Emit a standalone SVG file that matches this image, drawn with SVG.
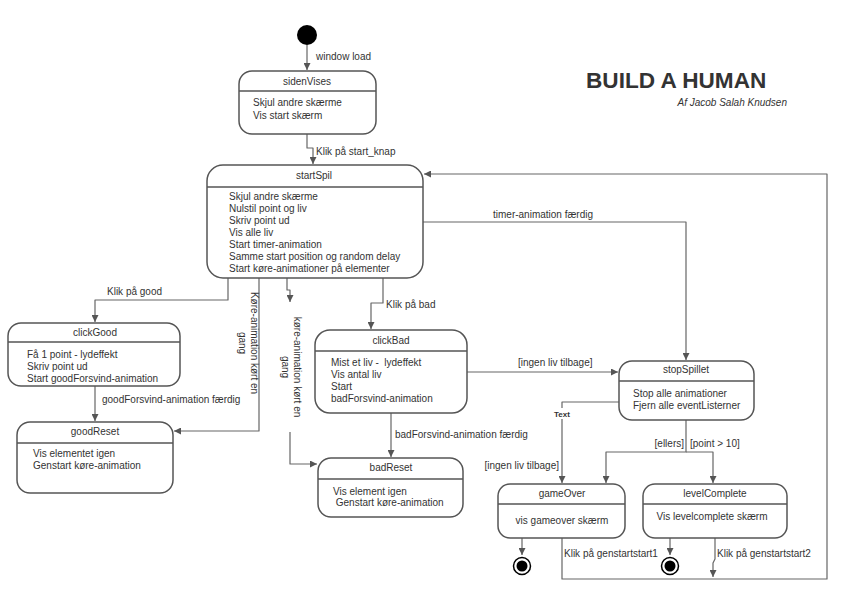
<svg xmlns="http://www.w3.org/2000/svg" width="841" height="594" viewBox="0 0 841 594">
<defs>
<style>
text{font-family:"Liberation Sans",Arial,sans-serif;font-size:10px;fill:#333}
.t{text-anchor:middle}
.box{fill:#fff;stroke:#555;stroke-width:1.5}
.hl{stroke:#555;stroke-width:1.5}
.c{fill:none;stroke:#666;stroke-width:1.2;stroke-linejoin:round}
</style>
<marker id="ah" viewBox="0 0 10 10" refX="10" refY="5" markerWidth="7" markerHeight="7" markerUnits="userSpaceOnUse" orient="auto">
<path d="M0,0 L10,5 L0,10 z" fill="#555"/>
</marker>
</defs>
<rect width="841" height="594" fill="#fff"/>

<g id="title">
<text x="586" y="88" style="font-size:22.6px;font-weight:bold;fill:#333">BUILD A HUMAN</text>
<text x="787" y="106" style="font-style:italic;text-anchor:end">Af Jacob Salah Knudsen</text>
</g>

<g id="connectors">
<path class="c" d="M307,45 V70" marker-end="url(#ah)"/>
<text x="316" y="60">window load</text>
<path class="c" d="M307,134 V148 H313 V164" marker-end="url(#ah)"/>
<text x="316" y="155">Klik på start_knap</text>
<path class="c" d="M228,278 V300 H95 V322" marker-end="url(#ah)"/>
<text x="107" y="295">Klik på good</text>
<path class="c" d="M95,386 V421" marker-end="url(#ah)"/>
<text x="102" y="403">goodForsvind-animation færdig</text>
<path class="c" d="M259,278 V431 H174" marker-end="url(#ah)"/>
<g transform="translate(251,343) rotate(90)"><text class="t" x="0" y="0">Køre-animation kørt en</text><text class="t" x="0" y="12">gang</text></g>
<path class="c" d="M287,278 V290 H290 V302" marker-end="url(#ah)"/>
<g transform="translate(294,367) rotate(90)"><text class="t" x="0" y="0">køre-animation kørt en</text><text class="t" x="0" y="12">gang</text></g>
<path class="c" d="M290,432 V464 H317" marker-end="url(#ah)"/>
<path class="c" d="M383,278 V303 H371 V329" marker-end="url(#ah)"/>
<text x="386" y="308">Klik på bad</text>
<path class="c" d="M391,413 V457" marker-end="url(#ah)"/>
<text x="395" y="438">badForsvind-animation færdig</text>
<path class="c" d="M423,222 H686 V360" marker-end="url(#ah)"/>
<text x="493" y="218">timer-animation færdig</text>
<path class="c" d="M467,372 H618" marker-end="url(#ah)"/>
<text x="518" y="366">[ingen liv tilbage]</text>
<path class="c" d="M619,402 H562 V483" marker-end="url(#ah)"/>
<rect x="552" y="408" width="21" height="11" fill="#fff"/>
<text x="562" y="417" style="font-size:8px;font-weight:bold;text-anchor:middle">Text</text>
<text x="559" y="469" style="text-anchor:end">[ingen liv tilbage]</text>
<path class="c" d="M686,420 V452 H606 V483" marker-end="url(#ah)"/>
<path class="c" d="M686,452 H713 V483" marker-end="url(#ah)"/>
<text x="684" y="447" style="text-anchor:end">[ellers]</text>
<text x="690" y="447">[point &gt; 10]</text>
<path class="c" d="M522,538 V555" marker-end="url(#ah)"/>
<path class="c" d="M670,538 V555" marker-end="url(#ah)"/>
<path class="c" d="M562,538 V579 H827 V174 H424" marker-end="url(#ah)"/>
<text x="564" y="557">Klik på genstartstart1</text>
<path class="c" d="M715,538 V559 L713,563 V577" marker-end="url(#ah)"/>
<text x="717" y="557">Klik på genstartstart2</text>
</g>

<g id="initial"><circle cx="307" cy="35" r="10" fill="#000"/></g>

<g id="sidenVises">
<rect class="box" x="239" y="71" width="137" height="63" rx="13"/>
<line class="hl" x1="239" y1="91" x2="376" y2="91"/>
<text class="t" x="307" y="85">sidenVises</text>
<text x="253" y="106">Skjul andre skærme</text>
<text x="253" y="119">Vis start skærm</text>
</g>

<g id="startSpil">
<rect class="box" x="207" y="165" width="216" height="113" rx="16"/>
<line class="hl" x1="207" y1="187" x2="423" y2="187"/>
<text class="t" x="314" y="179">startSpil</text>
<text x="229" y="200">Skjul andre skærme</text>
<text x="229" y="212">Nulstil point og liv</text>
<text x="229" y="224">Skriv point ud</text>
<text x="229" y="236">Vis alle liv</text>
<text x="229" y="248">Start timer-animation</text>
<text x="229" y="260">Samme start position og random delay</text>
<text x="229" y="272">Start køre-animationer på elementer</text>
</g>

<g id="clickGood">
<rect class="box" x="8" y="323" width="172" height="63" rx="13"/>
<line class="hl" x1="8" y1="342" x2="180" y2="342"/>
<text class="t" x="95" y="336">clickGood</text>
<text x="27" y="358">Få 1 point - lydeffekt</text>
<text x="27" y="370">Skriv point ud</text>
<text x="27" y="382">Start goodForsvind-animation</text>
</g>

<g id="goodReset">
<rect class="box" x="17" y="422" width="156" height="71" rx="13"/>
<line class="hl" x1="17" y1="443" x2="173" y2="443"/>
<text class="t" x="95" y="435">goodReset</text>
<text x="33" y="457">Vis elementet igen</text>
<text x="33" y="469">Genstart køre-animation</text>
</g>

<g id="clickBad">
<rect class="box" x="315" y="330" width="152" height="83" rx="15"/>
<line class="hl" x1="315" y1="351" x2="467" y2="351"/>
<text class="t" x="391" y="344">clickBad</text>
<text x="331" y="366" xml:space="preserve">Mist et liv -  lydeffekt</text>
<text x="331" y="378">Vis antal liv</text>
<text x="331" y="390">Start</text>
<text x="331" y="402">badForsvind-animation</text>
</g>

<g id="badReset">
<rect class="box" x="318" y="458" width="145" height="59" rx="13"/>
<line class="hl" x1="318" y1="479" x2="463" y2="479"/>
<text class="t" x="391" y="471">badReset</text>
<text x="333" y="495">Vis element igen</text>
<text x="333" y="506" xml:space="preserve"> Genstart køre-animation</text>
</g>

<g id="stopSpillet">
<rect class="box" x="619" y="361" width="135" height="59" rx="13"/>
<line class="hl" x1="619" y1="381" x2="754" y2="381"/>
<text class="t" x="686" y="373">stopSpillet</text>
<text x="633" y="397">Stop alle animationer</text>
<text x="633" y="409">Fjern alle eventListerner</text>
</g>

<g id="gameOver">
<rect class="box" x="498" y="484" width="127" height="54" rx="12"/>
<line class="hl" x1="498" y1="504" x2="625" y2="504"/>
<text class="t" x="562" y="497">gameOver</text>
<text class="t" x="562" y="524">vis gameover skærm</text>
</g>

<g id="levelComplete">
<rect class="box" x="643" y="484" width="144" height="54" rx="12"/>
<line class="hl" x1="643" y1="504" x2="787" y2="504"/>
<text class="t" x="715" y="497">levelComplete</text>
<text class="t" x="712" y="520">Vis levelcomplete skærm</text>
</g>

<g id="final1"><circle cx="522" cy="566" r="8.5" fill="#fff" stroke="#000" stroke-width="1.5"/><circle cx="522" cy="566" r="5.5" fill="#000"/></g>
<g id="final2"><circle cx="670" cy="566" r="8.5" fill="#fff" stroke="#000" stroke-width="1.5"/><circle cx="670" cy="566" r="5.5" fill="#000"/></g>
</svg>
